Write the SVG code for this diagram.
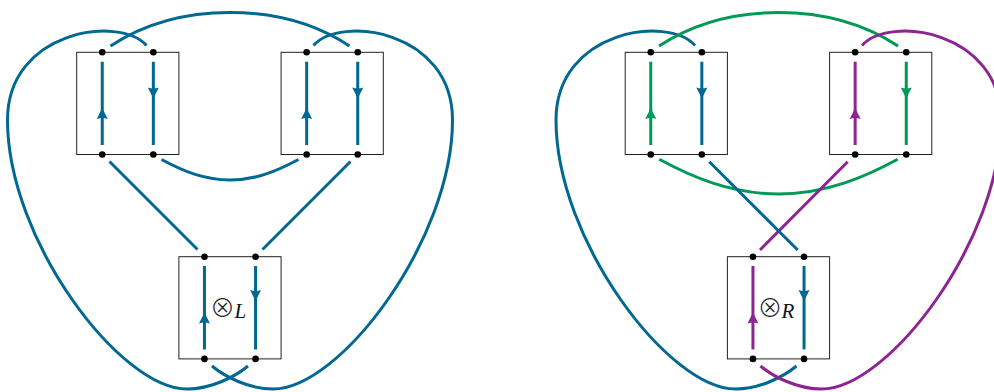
<svg xmlns="http://www.w3.org/2000/svg" xmlns:xlink="http://www.w3.org/1999/xlink" width="994" height="392" viewBox="0 0 994 392">
<style>
.box{fill:none;stroke:#222;stroke-width:1}
.dot{fill:#000}
.s{fill:none;stroke-width:3;stroke-linecap:butt}
.b{stroke:#006891}
.g{stroke:#009955}
.p{stroke:#8C2491}
.fb{fill:#006891}
.fg{fill:#009955}
.fp{fill:#8C2491}
.op{font-family:"Noto Sans CJK JP",sans-serif;font-weight:300;font-size:25px;fill:#222}
.lab{font-family:"Liberation Serif",serif;font-style:italic;font-size:21px;fill:#111}
</style>
<defs>
<path id="up" d="M0,0 L5.5,11 Q0,9 -5.5,11 Z"/>
<path id="dn" d="M0,0 L5.5,-11 Q0,-9 -5.5,-11 Z"/>
<circle id="d" r="3.3"/>
</defs>

<!-- LEFT DIAGRAM -->
<g id="left-connectors">
<path class="s b" d="M146.5,45.5 C120,15 7.5,30 7.5,120 C7.5,240 120,389 187,389 C212,389 236,376 248,366"/>
<path class="s b" d="M313.5,45.5 C340,15 452.5,30 452.5,120 C452.5,240 340,389 273,389 C248,389 224,376 212,366"/>
<path class="s b" d="M110.5,46 C150,20 190,12.5 230,12.5 C270,12.5 310,20 349.5,46"/>
<path class="s b" d="M161.5,159.5 C185,172 205,180 230,180 C255,180 275,172 298.5,159.5"/>
<path class="s b" d="M109.5,161.5 L197.5,249.5"/>
<path class="s b" d="M350.5,161.5 L262.5,249.5"/>
</g>

<g id="L-box1">
<rect class="box" x="76.7" y="52.3" width="102.2" height="102.2"/>
<path class="s b" d="M102.25,61.7 V145 M153.35,61.7 V145"/>
<use xlink:href="#up" class="fb" x="102.25" y="108"/>
<use xlink:href="#dn" class="fb" x="153.35" y="98.5"/>
<use xlink:href="#d" class="dot" x="102.25" y="52.3"/>
<use xlink:href="#d" class="dot" x="153.35" y="52.3"/>
<use xlink:href="#d" class="dot" x="102.25" y="154.5"/>
<use xlink:href="#d" class="dot" x="153.35" y="154.5"/>
</g>

<g id="L-box2">
<rect class="box" x="281.1" y="52.3" width="102.2" height="102.2"/>
<path class="s b" d="M306.65,61.7 V145 M357.75,61.7 V145"/>
<use xlink:href="#up" class="fb" x="306.65" y="108"/>
<use xlink:href="#dn" class="fb" x="357.75" y="98.5"/>
<use xlink:href="#d" class="dot" x="306.65" y="52.3"/>
<use xlink:href="#d" class="dot" x="357.75" y="52.3"/>
<use xlink:href="#d" class="dot" x="306.65" y="154.5"/>
<use xlink:href="#d" class="dot" x="357.75" y="154.5"/>
</g>

<g id="L-box3">
<rect class="box" x="178.9" y="256.7" width="102.2" height="102.2"/>
<path class="s b" d="M204.45,266 V349.4 M255.55,266 V349.4"/>
<use xlink:href="#up" class="fb" x="204.45" y="312.5"/>
<use xlink:href="#dn" class="fb" x="255.55" y="301"/>
<use xlink:href="#d" class="dot" x="204.45" y="256.7"/>
<use xlink:href="#d" class="dot" x="255.55" y="256.7"/>
<use xlink:href="#d" class="dot" x="204.45" y="358.9"/>
<use xlink:href="#d" class="dot" x="255.55" y="358.9"/>
<text class="op" x="222.5" y="317.3" text-anchor="middle">⊗</text>
<text class="lab" x="234.5" y="317.5">L</text>
</g>

<!-- RIGHT DIAGRAM -->
<g transform="translate(548.5,0)">
<g id="right-connectors">
<path class="s b" d="M146.5,45.5 C120,15 7.5,30 7.5,120 C7.5,240 120,389 187,389 C212,389 236,376 248,366"/>
<path class="s g" d="M110.5,46 C150,20 190,12.5 230,12.5 C270,12.5 310,20 349.5,46"/>
<path class="s g" d="M110.8,159.3 C141.5,176 181.5,194 230,194 C278.5,194 318.5,176 349.2,159.3"/>
<path class="s p" d="M313.5,45.5 C340,15 452.5,30 452.5,120 C452.5,240 340,389 273,389 C248,389 224,376 212,366"/>
<path class="s p" d="M299.2,161.7 L211.5,250"/>
<path class="s b" d="M160.8,161.7 L249.2,250"/>
</g>

<g id="R-box1">
<rect class="box" x="76.7" y="52.3" width="102.2" height="102.2"/>
<path class="s g" d="M102.25,61.7 V145"/>
<path class="s b" d="M153.35,61.7 V145"/>
<use xlink:href="#up" class="fg" x="102.25" y="108"/>
<use xlink:href="#dn" class="fb" x="153.35" y="98.5"/>
<use xlink:href="#d" class="dot" x="102.25" y="52.3"/>
<use xlink:href="#d" class="dot" x="153.35" y="52.3"/>
<use xlink:href="#d" class="dot" x="102.25" y="154.5"/>
<use xlink:href="#d" class="dot" x="153.35" y="154.5"/>
</g>

<g id="R-box2">
<rect class="box" x="281.1" y="52.3" width="102.2" height="102.2"/>
<path class="s p" d="M306.65,61.7 V145"/>
<path class="s g" d="M357.75,61.7 V145"/>
<use xlink:href="#up" class="fp" x="306.65" y="108"/>
<use xlink:href="#dn" class="fg" x="357.75" y="98.5"/>
<use xlink:href="#d" class="dot" x="306.65" y="52.3"/>
<use xlink:href="#d" class="dot" x="357.75" y="52.3"/>
<use xlink:href="#d" class="dot" x="306.65" y="154.5"/>
<use xlink:href="#d" class="dot" x="357.75" y="154.5"/>
</g>

<g id="R-box3">
<rect class="box" x="178.9" y="256.7" width="102.2" height="102.2"/>
<path class="s p" d="M204.45,266 V349.4"/>
<path class="s b" d="M255.55,266 V349.4"/>
<use xlink:href="#up" class="fp" x="204.45" y="312.5"/>
<use xlink:href="#dn" class="fb" x="255.55" y="301"/>
<use xlink:href="#d" class="dot" x="204.45" y="256.7"/>
<use xlink:href="#d" class="dot" x="255.55" y="256.7"/>
<use xlink:href="#d" class="dot" x="204.45" y="358.9"/>
<use xlink:href="#d" class="dot" x="255.55" y="358.9"/>
<text class="op" x="221.5" y="317.3" text-anchor="middle">⊗</text>
<text class="lab" x="233" y="317.5">R</text>
</g>
</g>
</svg>
